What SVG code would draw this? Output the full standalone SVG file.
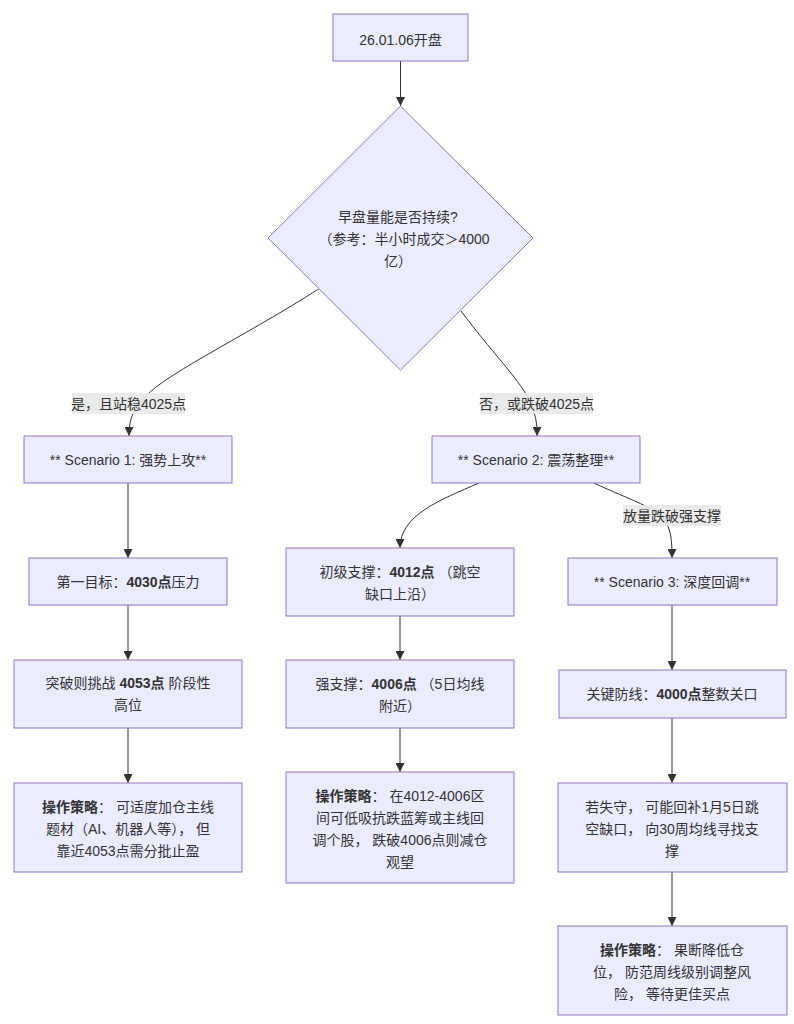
<svg xmlns="http://www.w3.org/2000/svg" width="794" height="1024" viewBox="0 0 794 1024">
<defs>
<marker id="arr" viewBox="0 0 10 10" refX="10" refY="5" markerUnits="userSpaceOnUse" markerWidth="9" markerHeight="9" orient="auto">
<path d="M0,0 L10,5 L0,10 z" fill="#333"/>
</marker>
<style>
.n{fill:#ECECFF;stroke:#9370DB;stroke-width:1}
.t{font-family:"Liberation Sans","Noto Sans CJK SC",sans-serif;font-size:14px;fill:#333;text-anchor:middle}
.b{font-weight:bold}
.e{fill:none;stroke:#333;stroke-width:1;marker-end:url(#arr)}
.lb{fill:#e8e8e8;opacity:0.9}
</style>
</defs>
<rect width="794" height="1024" fill="#fff"/>
<g id="edges">
<path class="e" d="M400.5,61 L400.5,106"/>
<path class="e" d="M318.6,289 C250,333 170,372 148,394 C132,410 129,420 129,436"/>
<path class="e" d="M461,311 C490,350 518,378 528,398 C536,414 537,422 537,436"/>
<path class="e" d="M128,483 L128,558"/>
<path class="e" d="M128,605 L128,660"/>
<path class="e" d="M128,728 L128,783"/>
<path class="e" d="M479,483 C440,500 400,515 400,548"/>
<path class="e" d="M594,483 C630,500 658,508 666,522 C671,532 672,540 672,558"/>
<path class="e" d="M400,616 L400,660"/>
<path class="e" d="M400,728 L400,772"/>
<path class="e" d="M672,605 L672,670"/>
<path class="e" d="M672,718 L672,783"/>
<path class="e" d="M672,872 L672,926"/>
<rect class="lb" x="72" y="393" width="113" height="21"/>
<text class="t" x="128.5" y="409">是，且站稳4025点</text>
<rect class="lb" x="480" y="393" width="113" height="21"/>
<text class="t" x="536.5" y="409">否，或跌破4025点</text>
<rect class="lb" x="623" y="505" width="98" height="21"/>
<text class="t" x="672" y="521">放量跌破强支撑</text>
</g>
<g id="A">
<rect class="n" x="333" y="14" width="135" height="47"/>
<text class="t" x="400.5" y="45">26.01.06开盘</text>
</g>
<g id="B">
<polygon class="n" points="400.5,106 533,238 400.5,370 268,238"/>
<text class="t" x="398" y="222">早盘量能是否持续?</text>
<text class="t" x="404" y="244">（参考：半小时成交＞4000</text>
<text class="t" x="398" y="266">亿）</text>
</g>
<g id="S1">
<rect class="n" x="24" y="436" width="208" height="47"/>
<text class="t" x="128" y="465">** Scenario 1: 强势上攻**</text>
</g>
<g id="C1">
<rect class="n" x="29" y="558" width="198" height="47"/>
<text class="t" x="128" y="587">第一目标：<tspan class="b">4030点</tspan>压力</text>
</g>
<g id="C2">
<rect class="n" x="14" y="660" width="228" height="68"/>
<text class="t" x="128" y="688">突破则挑战 <tspan class="b">4053点</tspan> 阶段性</text>
<text class="t" x="128" y="710">高位</text>
</g>
<g id="C3">
<rect class="n" x="14" y="783" width="228" height="89"/>
<text class="t" x="128" y="812"><tspan class="b">操作策略</tspan>：  可适度加仓主线</text>
<text class="t" x="128" y="834">题材（AI、机器人等）， 但</text>
<text class="t" x="128" y="856">靠近4053点需分批止盈</text>
</g>
<g id="S2">
<rect class="n" x="432" y="436" width="208" height="47"/>
<text class="t" x="536" y="465">** Scenario 2: 震荡整理**</text>
</g>
<g id="D1">
<rect class="n" x="286" y="548" width="228" height="68"/>
<text class="t" x="400" y="577">初级支撑：<tspan class="b">4012点</tspan> （跳空</text>
<text class="t" x="400" y="599">缺口上沿）</text>
</g>
<g id="D2">
<rect class="n" x="286" y="660" width="228" height="68"/>
<text class="t" x="400" y="689">强支撑：<tspan class="b">4006点</tspan> （5日均线</text>
<text class="t" x="400" y="711">附近）</text>
</g>
<g id="D3">
<rect class="n" x="286" y="772" width="228" height="111"/>
<text class="t" x="400" y="801"><tspan class="b">操作策略</tspan>： 在4012-4006区</text>
<text class="t" x="400" y="823">间可低吸抗跌蓝筹或主线回</text>
<text class="t" x="400" y="845">调个股， 跌破4006点则减仓</text>
<text class="t" x="400" y="867">观望</text>
</g>
<g id="S3">
<rect class="n" x="568" y="558" width="209" height="47"/>
<text class="t" x="672" y="587">** Scenario 3: 深度回调**</text>
</g>
<g id="E1">
<rect class="n" x="559" y="670" width="227" height="48"/>
<text class="t" x="672" y="699">关键防线：<tspan class="b">4000点</tspan>整数关口</text>
</g>
<g id="E2">
<rect class="n" x="558" y="783" width="229" height="89"/>
<text class="t" x="672" y="812">若失守， 可能回补1月5日跳</text>
<text class="t" x="672" y="834">空缺口， 向30周均线寻找支</text>
<text class="t" x="672" y="856">撑</text>
</g>
<g id="E3">
<rect class="n" x="558" y="926" width="229" height="89"/>
<text class="t" x="672" y="955"><tspan class="b">操作策略</tspan>： 果断降低仓</text>
<text class="t" x="672" y="977">位， 防范周线级别调整风</text>
<text class="t" x="672" y="999">险， 等待更佳买点</text>
</g>
</svg>
